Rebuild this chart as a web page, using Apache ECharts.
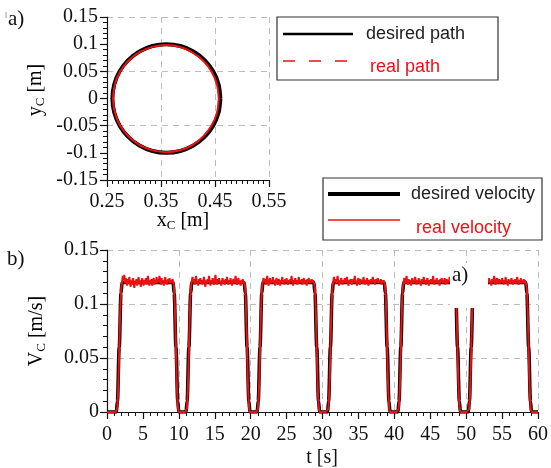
<!DOCTYPE html>
<html>
<head>
<meta charset="utf-8">
<script src="https://cdn.jsdelivr.net/npm/echarts@6/dist/echarts.min.js"></script>
<style>
  html, body { margin: 0; padding: 0; background: #fff; }
  #chart { width: 551px; height: 468px; }
</style>
</head>
<body>
<div id="chart"></div>
<script>
// ---- (a) path of point C: desired circle and measured path [x, y] in metres ----
const desiredPath = [
  [0.46, 0], [0.4566, 0.0259], [0.4466, 0.05], [0.4307, 0.0707], [0.41, 0.0866], [0.3859, 0.0966],
  [0.36, 0.1], [0.3341, 0.0966], [0.31, 0.0866], [0.2893, 0.0707], [0.2734, 0.05], [0.2634, 0.0259],
  [0.26, 0], [0.2634, -0.0259], [0.2734, -0.05], [0.2893, -0.0707], [0.31, -0.0866], [0.3341, -0.0966],
  [0.36, -0.1], [0.3859, -0.0966], [0.41, -0.0866], [0.4307, -0.0707], [0.4466, -0.05], [0.4566, -0.0259],
  [0.46, 0]
];
const realPath = [
  [0.457, 0], [0.4536, 0.0256], [0.4438, 0.0492], [0.4283, 0.0695], [0.4078, 0.0851], [0.3843, 0.0951],
  [0.3592, 0.0985], [0.3338, 0.095], [0.3101, 0.0853], [0.2898, 0.0696], [0.2741, 0.0493], [0.2645, 0.0255],
  [0.2612, 0], [0.2645, -0.0257], [0.2743, -0.0496], [0.2901, -0.07], [0.3105, -0.0857], [0.3344, -0.0955],
  [0.3598, -0.0988], [0.3851, -0.0954], [0.4085, -0.0853], [0.4285, -0.0697], [0.4439, -0.0494], [0.4538, -0.0256],
  [0.457, 0]
];
const pathXTickLabels = ['0.25', '0.35', '0.45', '0.55'];

// ---- (b) velocity of point C ----
// desired velocity profile: [t (s), V (m/s)] corner points
const desiredVelocity = [
  [0, 0],
  [1.3, 0], [1.45, 0.01], [1.7, 0.06], [1.95, 0.11], [2.1, 0.12],
  [9.2, 0.12], [9.35, 0.11], [9.6, 0.06], [9.85, 0.01], [10.0, 0],
  [11.0, 0], [11.15, 0.01], [11.4, 0.06], [11.65, 0.11], [11.8, 0.12],
  [19.1, 0.12], [19.25, 0.11], [19.5, 0.06], [19.75, 0.01], [19.9, 0],
  [20.9, 0], [21.05, 0.01], [21.3, 0.06], [21.55, 0.11], [21.7, 0.12],
  [28.8, 0.12], [28.95, 0.11], [29.2, 0.06], [29.45, 0.01], [29.6, 0],
  [30.7, 0], [30.85, 0.01], [31.1, 0.06], [31.35, 0.11], [31.5, 0.12],
  [38.6, 0.12], [38.75, 0.11], [39.0, 0.06], [39.25, 0.01], [39.4, 0],
  [40.5, 0], [40.65, 0.01], [40.9, 0.06], [41.15, 0.11], [41.3, 0.12],
  [48.4, 0.12], [48.55, 0.11], [48.8, 0.06], [49.05, 0.01], [49.2, 0],
  [50.3, 0], [50.45, 0.01], [50.7, 0.06], [50.95, 0.11], [51.1, 0.12],
  [58.3, 0.12], [58.45, 0.11], [58.7, 0.06], [58.95, 0.01], [59.1, 0],
  [60, 0]
];
// measured velocity, one sample every 0.1 s from t = 0 (each row covers 1 s)
const realVelocityStep = 0.1;
const realVelocity = [
  0, 0, 0, 0, 0, 0, 0, 0, 0, 0,
  0, 0, 0, 0, 0.003, 0.012, 0.03, 0.058, 0.085, 0.105,
  0.116, 0.121, 0.126, 0.122, 0.127, 0.119, 0.124, 0.121, 0.117, 0.123,
  0.119, 0.125, 0.12, 0.116, 0.122, 0.118, 0.124, 0.12, 0.115, 0.121,
  0.118, 0.123, 0.117, 0.121, 0.125, 0.119, 0.122, 0.116, 0.12, 0.124,
  0.12, 0.117, 0.122, 0.119, 0.124, 0.118, 0.121, 0.126, 0.12, 0.117,
  0.122, 0.119, 0.123, 0.117, 0.121, 0.124, 0.118, 0.122, 0.12, 0.125,
  0.119, 0.123, 0.12, 0.126, 0.121, 0.118, 0.124, 0.119, 0.122, 0.117,
  0.121, 0.125, 0.119, 0.122, 0.118, 0.123, 0.12, 0.124, 0.119, 0.122,
  0.12, 0.123, 0.121, 0.117, 0.107, 0.085, 0.058, 0.03, 0.012, 0.003,
  0, 0, 0, 0, 0, 0, 0, 0, 0, 0,
  0, 0.003, 0.012, 0.03, 0.058, 0.085, 0.105, 0.116, 0.121, 0.125,
  0.12, 0.123, 0.118, 0.122, 0.126, 0.119, 0.121, 0.117, 0.123, 0.12,
  0.124, 0.119, 0.122, 0.118, 0.121, 0.125, 0.12, 0.116, 0.122, 0.119,
  0.123, 0.12, 0.126, 0.121, 0.117, 0.122, 0.119, 0.124, 0.12, 0.118,
  0.122, 0.127, 0.121, 0.118, 0.123, 0.12, 0.124, 0.119, 0.121, 0.117,
  0.121, 0.124, 0.119, 0.122, 0.118, 0.123, 0.12, 0.125, 0.121, 0.118,
  0.122, 0.119, 0.124, 0.12, 0.117, 0.121, 0.123, 0.119, 0.122, 0.126,
  0.12, 0.118, 0.122, 0.124, 0.119, 0.121, 0.117, 0.122, 0.12, 0.123,
  0.119, 0.121, 0.117, 0.107, 0.085, 0.058, 0.03, 0.012, 0.003, 0,
  0, 0, 0, 0, 0, 0, 0, 0, 0, 0,
  0.003, 0.012, 0.03, 0.058, 0.085, 0.105, 0.116, 0.121, 0.124, 0.12,
  0.123, 0.118, 0.122, 0.126, 0.12, 0.117, 0.121, 0.124, 0.119, 0.122,
  0.12, 0.125, 0.119, 0.122, 0.117, 0.121, 0.124, 0.12, 0.118, 0.123,
  0.121, 0.117, 0.122, 0.12, 0.125, 0.119, 0.122, 0.118, 0.123, 0.12,
  0.124, 0.12, 0.118, 0.122, 0.119, 0.123, 0.121, 0.126, 0.12, 0.117,
  0.122, 0.119, 0.124, 0.12, 0.122, 0.118, 0.121, 0.125, 0.119, 0.122,
  0.12, 0.123, 0.118, 0.121, 0.124, 0.119, 0.122, 0.12, 0.117, 0.123,
  0.121, 0.124, 0.119, 0.122, 0.12, 0.123, 0.12, 0.122, 0.121, 0.117,
  0.107, 0.085, 0.058, 0.03, 0.012, 0.003, 0, 0, 0, 0,
  0, 0, 0, 0, 0, 0, 0, 0, 0.003, 0.012,
  0.03, 0.058, 0.085, 0.105, 0.116, 0.121, 0.125, 0.12, 0.123, 0.119,
  0.122, 0.126, 0.12, 0.117, 0.122, 0.119, 0.124, 0.121, 0.118, 0.122,
  0.12, 0.124, 0.119, 0.121, 0.125, 0.12, 0.117, 0.122, 0.119, 0.123,
  0.121, 0.118, 0.123, 0.12, 0.122, 0.126, 0.119, 0.121, 0.117, 0.122,
  0.124, 0.12, 0.118, 0.123, 0.12, 0.122, 0.119, 0.125, 0.121, 0.118,
  0.122, 0.119, 0.124, 0.12, 0.117, 0.122, 0.12, 0.123, 0.119, 0.121,
  0.125, 0.12, 0.122, 0.118, 0.123, 0.12, 0.121, 0.124, 0.119, 0.122,
  0.12, 0.123, 0.118, 0.122, 0.12, 0.122, 0.121, 0.117, 0.107, 0.085,
  0.058, 0.03, 0.012, 0.003, 0, 0, 0, 0, 0, 0,
  0, 0, 0, 0, 0, 0, 0.003, 0.012, 0.03, 0.058,
  0.085, 0.105, 0.116, 0.121, 0.124, 0.119, 0.122, 0.126, 0.12, 0.118,
  0.123, 0.12, 0.122, 0.117, 0.121, 0.124, 0.119, 0.122, 0.12, 0.125,
  0.121, 0.118, 0.122, 0.12, 0.124, 0.119, 0.121, 0.117, 0.123, 0.12,
  0.122, 0.125, 0.119, 0.122, 0.118, 0.121, 0.124, 0.12, 0.117, 0.122,
  0.12, 0.123, 0.119, 0.121, 0.126, 0.12, 0.118, 0.122, 0.12, 0.124,
  0.119, 0.122, 0.12, 0.117, 0.123, 0.121, 0.124, 0.119, 0.122, 0.12,
  0.124, 0.118, 0.121, 0.123, 0.119, 0.122, 0.12, 0.125, 0.121, 0.118,
  0.122, 0.12, 0.123, 0.12, 0.121, 0.117, 0.107, 0.085, 0.058, 0.03,
  0.012, 0.003, 0, 0, 0, 0, 0, 0, 0, 0,
  0, 0, 0, 0, 0.003, 0.012, 0.03, 0.058, 0.085, 0.105,
  0.116, 0.121, 0.124, 0.12, 0.122, 0.118, 0.123, 0.121, 0.119, 0.124,
  0.12, 0.122, 0.117, 0.121, 0.125, 0.119, 0.122, 0.12, 0.123, 0.118,
  0.122, 0.12, 0.124, 0.119, 0.121, 0.117, 0.123, 0.12, 0.122, 0.126,
  0.12, 0.118, 0.122, 0.124, 0.119, 0.121, 0.123, 0.119, 0.122, 0.12,
  0.124, 0.121, 0.118, 0.122, 0.12, 0.125, 0.119, 0.121, 0.117, 0.123,
  0.12, 0.122, 0.119, 0.124, 0.121, 0.118, 0.122, 0.12, 0.123, 0.119,
  0.121, 0.125, 0.12, 0.118, 0.122, 0.12, 0.124, 0.119, 0.122, 0.12,
  0.123, 0.119, 0.122, 0.121, 0.117, 0.107, 0.085, 0.058, 0.03, 0.012,
  0.003, 0, 0, 0, 0, 0, 0, 0, 0, 0,
  0
];
const realVelocityPoints = realVelocity.map((v, i) => [+(i * realVelocityStep).toFixed(1), v]);

// ---- styling ----
const SERIF = 'Liberation Serif';
const RED = '#ee1111';
const GRID_LINE = { show: true, lineStyle: { color: '#bdbdbd', width: 1, type: [6, 5] } };
const AXIS_LINE = { show: true, onZero: false, lineStyle: { color: '#111', width: 1.2 } };
const AXIS_TICK = { show: true, inside: false, length: 7, lineStyle: { color: '#111', width: 1.2 } };
const minorTick = (n) => ({ show: true, splitNumber: n, length: 4, lineStyle: { color: '#111', width: 1 } });
const LABEL = { color: '#111', fontFamily: SERIF, fontSize: 20 };
const hidden = { axisLine: { show: false }, axisTick: { show: false }, axisLabel: { show: false } };

const chart = echarts.init(document.getElementById('chart'), null, { renderer: 'canvas' });

const subTitle = (text) => ({
  text, align: 'center', verticalAlign: 'middle',
  rich: {
    m: { fontFamily: SERIF, fontSize: 20, color: '#111', lineHeight: 22 },
    s: { fontFamily: SERIF, fontSize: 13, color: '#111', lineHeight: 8, verticalAlign: 'bottom' }
  }
});

chart.setOption({
  animation: false,
  backgroundColor: '#fff',
  grid: [
    { left: 107, top: 17, width: 162, height: 163 },
    { left: 107, top: 250, width: 435, height: 162 }
  ],
  xAxis: [
    // 0: path plot, data scale
    { gridIndex: 0, type: 'value', min: 0.25, max: 0.55, show: false },
    // 1: path plot, ticks/labels/grid every 0.1 m starting at 0.25 m
    {
      gridIndex: 0, type: 'value', min: 0, max: 0.3, interval: 0.1, position: 'bottom',
      axisLine: AXIS_LINE, axisTick: AXIS_TICK, minorTick: minorTick(10),
      axisLabel: Object.assign({ margin: 12, formatter: (v, i) => pathXTickLabels[i] }, LABEL),
      splitLine: GRID_LINE
    },
    // 2: velocity plot, time axis
    {
      gridIndex: 1, type: 'value', min: 0, max: 60, interval: 5, position: 'bottom',
      axisLine: AXIS_LINE, axisTick: AXIS_TICK, minorTick: minorTick(5),
      axisLabel: Object.assign({ margin: 13 }, LABEL),
      splitLine: { show: false }
    },
    // 3: velocity plot, vertical grid every 10 s
    Object.assign({ gridIndex: 1, type: 'value', min: 0, max: 60, interval: 10, splitLine: GRID_LINE }, hidden)
  ],
  yAxis: [
    // 0: path plot, y
    {
      gridIndex: 0, type: 'value', min: -0.15, max: 0.15, interval: 0.05, position: 'left',
      axisLine: AXIS_LINE, axisTick: AXIS_TICK, minorTick: minorTick(5),
      axisLabel: Object.assign({ margin: 9 }, LABEL),
      splitLine: { show: false }
    },
    // 1: path plot, horizontal grid at -0.15, -0.05, 0.05, 0.15
    Object.assign({ gridIndex: 0, type: 'value', min: 0, max: 0.3, interval: 0.1, position: 'left', splitLine: GRID_LINE }, hidden),
    // 2: velocity plot
    {
      gridIndex: 1, type: 'value', min: 0, max: 0.15, interval: 0.05, position: 'left',
      axisLine: AXIS_LINE, axisTick: AXIS_TICK, minorTick: minorTick(5),
      axisLabel: Object.assign({ margin: 8 }, LABEL),
      splitLine: GRID_LINE
    }
  ],
  series: [
    {
      name: 'desired path', type: 'line', xAxisIndex: 0, yAxisIndex: 0,
      data: desiredPath, smooth: 0.3, showSymbol: false, z: 3,
      lineStyle: { color: '#000', width: 4 }
    },
    {
      name: 'real path', type: 'line', xAxisIndex: 0, yAxisIndex: 0,
      data: realPath, smooth: 0.3, showSymbol: false, z: 4,
      lineStyle: { color: RED, width: 2 }
    },
    {
      name: 'desired velocity', type: 'line', xAxisIndex: 2, yAxisIndex: 2,
      data: desiredVelocity, smooth: 0.35, smoothMonotone: 'x', showSymbol: false, z: 3,
      lineStyle: { color: '#000', width: 3.5 }
    },
    {
      name: 'real velocity', type: 'line', xAxisIndex: 2, yAxisIndex: 2,
      data: realVelocityPoints, showSymbol: false, z: 4,
      lineStyle: { color: RED, width: 2 }
    }
  ],
  graphic: [
    // panel letters
    { type: 'line', shape: { x1: 6, y1: 12, x2: 6, y2: 18 }, style: { stroke: '#999', lineWidth: 1 } },
    { type: 'text', x: 8, y: 9, style: { text: 'a)', font: '21px "Liberation Serif"', fill: '#111' } },
    { type: 'text', x: 7, y: 249, style: { text: 'b)', font: '21px "Liberation Serif"', fill: '#111' } },

    // axis titles
    { type: 'text', x: 183, y: 221, style: subTitle('{m|x}{s|C}{m| [m]}') },
    { type: 'text', x: 36, y: 90, rotation: Math.PI / 2, style: subTitle('{m|y}{s|C}{m| [m]}') },
    { type: 'text', x: 322, y: 458, style: { text: 't [s]', align: 'center', verticalAlign: 'middle', font: '20px "Liberation Serif"', fill: '#111' } },
    { type: 'text', x: 37, y: 331, rotation: Math.PI / 2, style: subTitle('{m|V}{s|C}{m| [m/s]}') },

    // legend of the path plot
    { type: 'rect', shape: { x: 277, y: 17, width: 221, height: 63 }, style: { fill: '#fff', stroke: '#333', lineWidth: 1.2 }, z: 10 },
    { type: 'line', shape: { x1: 283, y1: 34, x2: 353, y2: 34 }, style: { stroke: '#000', lineWidth: 2.5 }, z: 11 },
    { type: 'text', x: 366, y: 34, z: 11, style: { text: 'desired path', verticalAlign: 'middle', font: '18px "Liberation Sans"', fill: '#222' } },
    { type: 'line', shape: { x1: 283, y1: 61, x2: 353, y2: 61 }, style: { stroke: RED, lineWidth: 1.5, lineDash: [12, 14] }, z: 11 },
    { type: 'text', x: 370, y: 67, z: 11, style: { text: 'real path', verticalAlign: 'middle', font: '18px "Liberation Sans"', fill: RED } },

    // legend of the velocity plot
    { type: 'rect', shape: { x: 323, y: 178, width: 219, height: 62 }, style: { fill: '#fff', stroke: '#333', lineWidth: 1.2 }, z: 10 },
    { type: 'line', shape: { x1: 328, y1: 194, x2: 400, y2: 194 }, style: { stroke: '#000', lineWidth: 4 }, z: 11 },
    { type: 'text', x: 411, y: 194, z: 11, style: { text: 'desired velocity', verticalAlign: 'middle', font: '18px "Liberation Sans"', fill: '#222' } },
    { type: 'line', shape: { x1: 328, y1: 220, x2: 400, y2: 220 }, style: { stroke: RED, lineWidth: 1.5 }, z: 11 },
    { type: 'text', x: 416, y: 228, z: 11, style: { text: 'real velocity', verticalAlign: 'middle', font: '18px "Liberation Sans"', fill: RED } },

    // inset label over the velocity plot
    { type: 'rect', shape: { x: 450, y: 263, width: 38, height: 45 }, style: { fill: '#fff' }, z: 20 },
    { type: 'text', x: 452, y: 265, z: 21, style: { text: 'a)', font: '21px "Liberation Serif"', fill: '#111' } }
  ]
});
</script>
</body>
</html>
